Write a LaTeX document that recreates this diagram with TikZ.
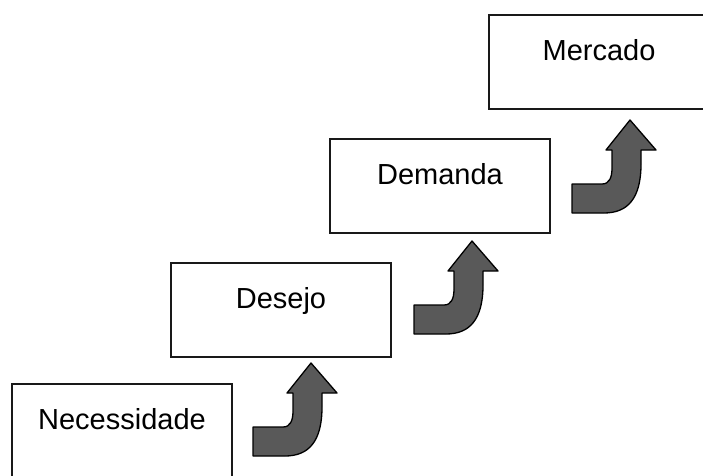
\documentclass[tikz,border=0pt]{standalone}
\usepackage{fontspec}
\setmainfont{Liberation Sans}
\tikzset{
  box/.style={draw=black!90, line width=1.6pt, fill=white, minimum width=220pt,
    minimum height=94pt, inner sep=0pt, text height=45pt, text depth=49pt,
    align=center, font=\fontsize{29}{34}\selectfont, text=black},
  bentarrow/.pic={
    \draw[fill=black!65, draw=black, line width=1.3pt, line join=round]
      (-58,64) -- (-28,64) .. controls (-21,64) and (-18,58) .. (-18,48)
      -- (-18,30) -- (-24,30) -- (0,0) -- (26,30) -- (11,30) -- (11,44)
      .. controls (11,78) and (-2,93) .. (-26,93) -- (-58,93) -- cycle;
  }
}
\begin{document}
\begin{tikzpicture}[x=1pt, y=-1pt]
\useasboundingbox (0,0) rectangle (703,475);
\clip (0,0) rectangle (703,475);
\node[box] (nec) at (122,431) {Necessidade};
\node[box] (des) at (281,310) {Desejo};
\node[box] (dem) at (440,186) {Demanda};
\node[box] (mer) at (599,62) {Mercado};
\pic at (311,363) {bentarrow};
\pic at (472,241) {bentarrow};
\pic at (630,120) {bentarrow};
\end{tikzpicture}
\end{document}
